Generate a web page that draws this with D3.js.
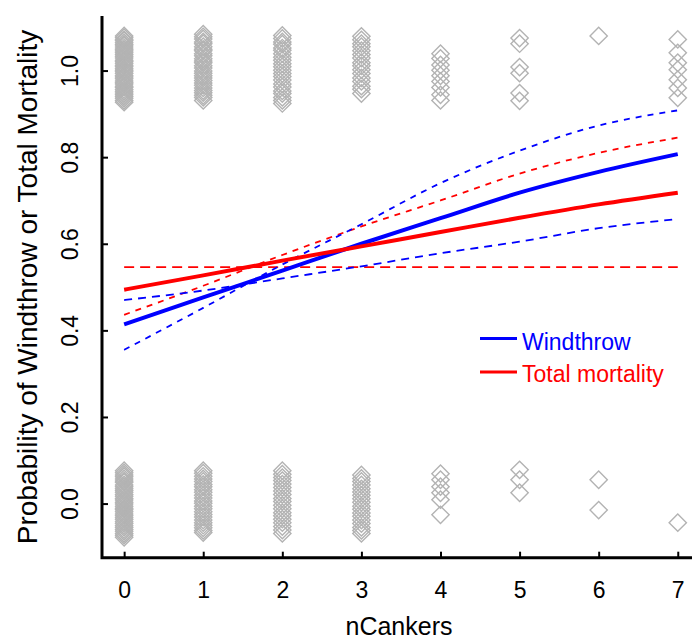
<!DOCTYPE html>
<html>
<head>
<meta charset="utf-8">
<script src="https://cdn.jsdelivr.net/npm/d3@7"></script>
<style>
  body { margin: 0; background: #fff; }
  svg { display: block; }
</style>
</head>
<body>
<div id="chart"></div>
<script>
// x positions of the observation columns
const nCankers = [0, 1, 2, 3, 4, 5, 6, 7];

// jittered observations, one list per nCankers value (dead ~1, alive ~0)
const deadObs = [
  [1.080,1.076,1.071,1.069,1.064,1.060,1.057,1.052,1.048,1.045,1.041,1.037,1.033,1.029,1.024,1.021,1.017,1.012,1.009,1.004,1.001,0.997,0.993,0.988,0.985,0.981,0.976,0.972,0.969,0.964,0.961,0.956,0.952,0.948,0.944,0.940,0.936,0.931,0.927],
  [1.084,1.078,1.073,1.066,1.062,1.055,1.049,1.046,1.039,1.034,1.027,1.022,1.018,1.011,1.006,0.999,0.994,0.988,0.983,0.977,0.971,0.966,0.960,0.954,0.949,0.943,0.938,0.931],
  [1.081,1.074,1.066,1.061,1.052,1.047,1.039,1.031,1.024,1.016,1.009,1.001,0.993,0.986,0.978,0.969,0.962,0.953,0.947,0.938,0.931,0.924],
  [1.079,1.071,1.062,1.055,1.046,1.037,1.029,1.018,1.011,1.002,0.993,0.983,0.975,0.964,0.957,0.947],
  [1.039,1.028,1.013,1.001,0.988,0.975,0.961,0.944,0.931],
  [1.075,1.062,1.008,0.994,0.948,0.930],
  [1.080],
  [1.072,1.041,1.018,1.002,0.979,0.960,0.937]
];
const aliveObs = [
  [0.076,0.071,0.066,0.062,0.057,0.052,0.049,0.043,0.039,0.034,0.030,0.026,0.021,0.017,0.012,0.008,0.003,-0.001,-0.006,-0.011,-0.014,-0.019,-0.024,-0.028,-0.033,-0.037,-0.042,-0.046,-0.051,-0.055,-0.060,-0.064,-0.069,-0.073,-0.078],
  [0.076,0.070,0.063,0.057,0.051,0.044,0.039,0.032,0.026,0.019,0.013,0.006,0.001,-0.006,-0.012,-0.019,-0.025,-0.031,-0.038,-0.044,-0.050,-0.056,-0.062,-0.067],
  [0.076,0.068,0.060,0.053,0.045,0.037,0.029,0.021,0.012,0.005,-0.004,-0.012,-0.021,-0.028,-0.036,-0.044,-0.053,-0.061,-0.069],
  [0.066,0.058,0.051,0.043,0.034,0.027,0.019,0.011,0.003,-0.006,-0.013,-0.022,-0.029,-0.038,-0.046,-0.055,-0.062,-0.069],
  [0.069,0.055,0.039,0.025,0.009,-0.026],
  [0.078,0.055,0.025],
  [0.055,-0.015],
  [-0.044]
];

// fitted curves, read at nCankers = 0..7
const windFit   = [0.414, 0.476, 0.538, 0.600, 0.659, 0.718, 0.766, 0.807];
const windBandA = [0.355, 0.452, 0.552, 0.645, 0.740, 0.815, 0.873, 0.908];
const windBandB = [0.470, 0.492, 0.520, 0.548, 0.578, 0.605, 0.636, 0.657];
const totFit    = [0.494, 0.527, 0.561, 0.594, 0.627, 0.660, 0.691, 0.718];
const totBandA  = [0.436, 0.503, 0.574, 0.640, 0.700, 0.762, 0.810, 0.845];
const totBandB  = [0.546, 0.546, 0.546, 0.546, 0.546, 0.546, 0.546, 0.546];

const xTicks = [0, 1, 2, 3, 4, 5, 6, 7];
const yTicks = [0, 0.2, 0.4, 0.6, 0.8, 1.0];

const W = 692, H = 642;
const svg = d3.select("#chart").append("svg")
    .attr("width", W)
    .attr("height", H);

const x = d3.scaleLinear().domain([-0.28, 7.18]).range([102, 692]);
const y = d3.scaleLinear().domain([-0.125, 1.126]).range([557.7, 16]);

// points
let pts = [];
nCankers.forEach((n, i) => {
    deadObs[i].forEach(v => pts.push({n: n, v: v}));
    aliveObs[i].forEach(v => pts.push({n: n, v: v}));
});

const diamond = d3.symbol().type(d3.symbolSquare).size(150);
svg.append("g")
    .selectAll("path")
    .data(pts)
    .join("path")
    .attr("d", diamond)
    .attr("transform", d => `translate(${x(d.n)},${y(d.v)}) rotate(45)`)
    .style("fill", "none")
    .style("stroke", "#b3b3b3")
    .style("stroke-width", 1.4);

// lines
const line = d3.line()
    .x((d, i) => x(nCankers[i]))
    .y(d => y(d))
    .curve(d3.curveMonotoneX);

const curves = [
    {d: totBandB,  c: "#ff0000", w: 1.8, dash: "10,6"},
    {d: totBandA,  c: "#ff0000", w: 1.8, dash: "6,6"},
    {d: windBandA, c: "#0000ff", w: 1.8, dash: "6,6"},
    {d: windBandB, c: "#0000ff", w: 1.8, dash: "8,6"},
    {d: windFit,   c: "#0000ff", w: 4,   dash: null},
    {d: totFit,    c: "#ff0000", w: 4,   dash: null}
];
curves.forEach(cv => {
    svg.append("path")
        .datum(cv.d)
        .attr("d", line)
        .style("fill", "none")
        .style("stroke", cv.c)
        .style("stroke-width", cv.w)
        .style("stroke-dasharray", cv.dash);
});

// axes
const xAxis = svg.append("g")
    .attr("transform", `translate(0,${y.range()[0]})`)
    .call(d3.axisBottom(x).tickValues(xTicks).tickSize(-6).tickSizeOuter(0).tickFormat(d3.format("d")));
xAxis.select(".domain").remove();
xAxis.selectAll(".tick line").style("stroke-width", 2);
xAxis.selectAll(".tick text")
    .attr("y", 40.5)
    .attr("dy", 0)
    .style("font-family", "Liberation Sans, Arial, sans-serif")
    .style("font-size", "23px")
    .style("fill", "#000");

const yAxis = svg.append("g")
    .attr("transform", `translate(${x.range()[0]},0)`)
    .call(d3.axisLeft(y).tickValues(yTicks).tickSize(-6).tickSizeOuter(0).tickFormat(d3.format(".1f")));
yAxis.select(".domain").remove();
yAxis.selectAll(".tick line").style("stroke-width", 2);
yAxis.selectAll(".tick text")
    .attr("transform", "rotate(-90)")
    .attr("x", 0)
    .attr("y", -24)
    .attr("dy", 0)
    .attr("text-anchor", "middle")
    .style("font-family", "Liberation Sans, Arial, sans-serif")
    .style("font-size", "23px")
    .style("fill", "#000");

// L-shaped frame
svg.append("path")
    .attr("d", `M${x.range()[0]},${y.range()[1]}V${y.range()[0]}H${x.range()[1]}`)
    .style("fill", "none")
    .style("stroke", "#000")
    .style("stroke-width", 3);

// axis titles
svg.append("text")
    .text("nCankers")
    .attr("x", 399)
    .attr("y", 635)
    .attr("text-anchor", "middle")
    .style("font-family", "Liberation Sans, Arial, sans-serif")
    .style("font-size", "25px");

svg.append("text")
    .text("Probability of Windthrow or Total Mortality")
    .attr("transform", "translate(37,287) rotate(-90)")
    .attr("text-anchor", "middle")
    .style("font-family", "Liberation Sans, Arial, sans-serif")
    .style("font-size", "28px");

// legend
const legend = [
    {label: "Windthrow", c: "#0000ff", ly: 338.5, ty: 350},
    {label: "Total mortality", c: "#ff0000", ly: 372, ty: 381.5}
];
legend.forEach(l => {
    svg.append("line")
        .attr("x1", 480).attr("x2", 517)
        .attr("y1", l.ly).attr("y2", l.ly)
        .style("stroke", l.c)
        .style("stroke-width", 3);
    svg.append("text")
        .text(l.label)
        .attr("x", 522)
        .attr("y", l.ty)
        .style("fill", l.c)
        .style("font-family", "Liberation Sans, Arial, sans-serif")
        .style("font-size", "23px");
});
</script>
</body>
</html>
